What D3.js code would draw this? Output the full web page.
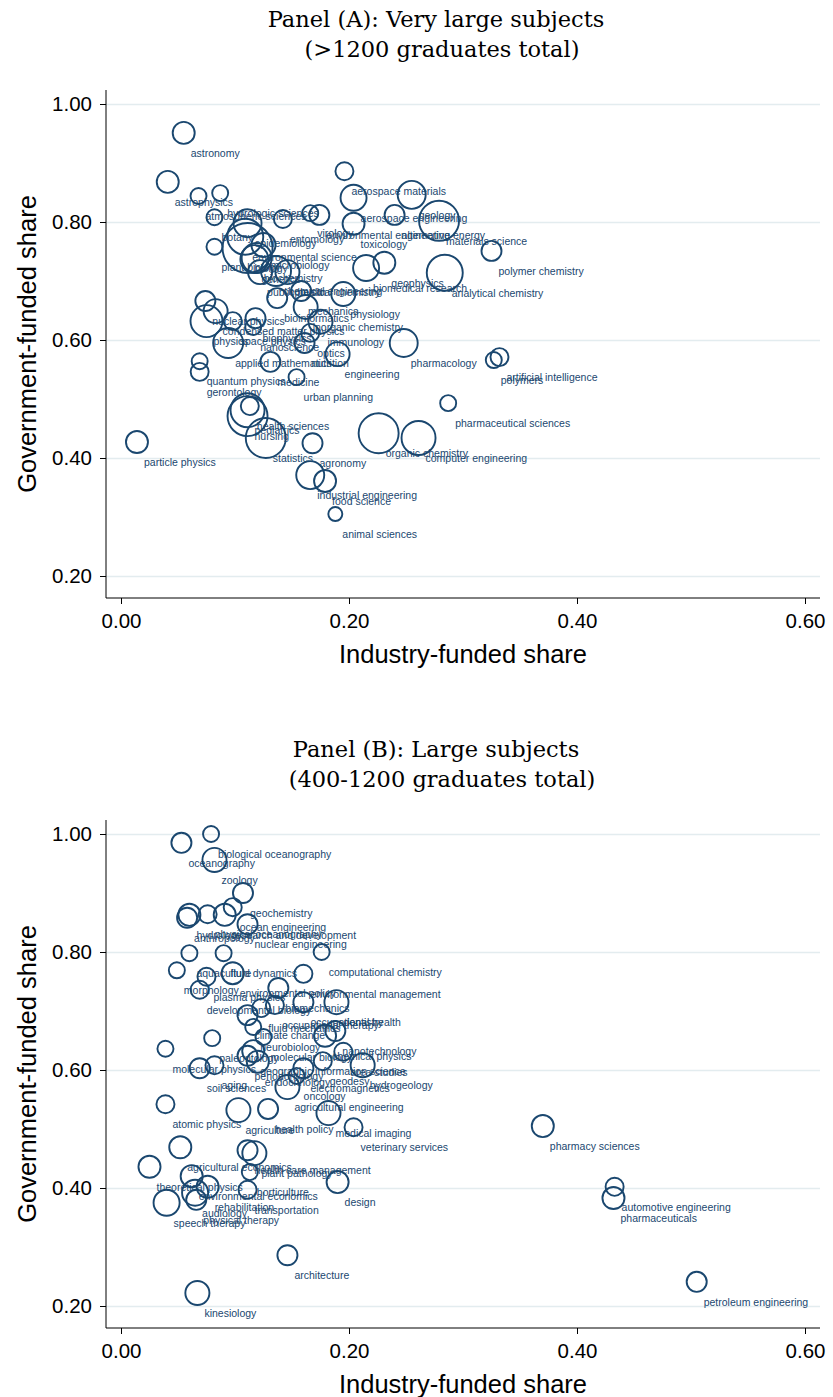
<!DOCTYPE html>
<html>
<head>
<meta charset="utf-8">
<script src="https://cdn.jsdelivr.net/npm/d3@7"></script>
<style>
  body { margin: 0; background: #fff; }
  text { font-family: "Liberation Sans", Arial, sans-serif; }
</style>
</head>
<body>
<div id="chart"></div>
<script>
"use strict";

// axis ticks shared by both panels
const xTicks = [0, 0.2, 0.4, 0.6];
const yTicks = [0.2, 0.4, 0.6, 0.8, 1.0];

// Panel A: very large subjects (>1200 graduates)
const subjectsA = ["astronomy","astrophysics","atmospheric sciences","hydrologic sciences","botany","plant biology",
  "epidemiology","entomology","virology","environmental engineering","alternative energy","aerospace materials",
  "aerospace engineering","geology","materials science","toxicology","polymer chemistry","analytical chemistry",
  "geophysics","biomedical research","environmental science","biology","microbiology","genetics","biochemistry",
  "public health","chemical engineering","physical chemistry","mechanics","physiology","bioinformatics",
  "nuclear physics","condensed matter physics","inorganic chemistry","physics","space physics","biophysics",
  "nanoscience","immunology","optics","applied mathematics","nutrition","engineering","pharmacology",
  "artificial intelligence","polymers","medicine","quantum physics","gerontology","urban planning",
  "health sciences","pediatrics","nursing","statistics","agronomy","particle physics","organic chemistry",
  "computer engineering","pharmaceutical sciences","industrial engineering","food science","animal sciences"];
const industryA = [0.055,0.041,0.068,0.087,0.082,0.082,
  0.111,0.142,0.166,0.174,0.240,0.196,
  0.204,0.255,0.279,0.204,0.325,0.284,
  0.231,0.215,0.109,0.111,0.125,0.117,0.119,
  0.122,0.136,0.146,0.158,0.195,0.137,
  0.074,0.083,0.162,0.075,0.098,0.118,
  0.116,0.175,0.166,0.094,0.161,0.190,0.248,
  0.332,0.327,0.131,0.069,0.069,0.154,
  0.113,0.111,0.111,0.127,0.168,0.014,0.226,
  0.261,0.287,0.166,0.179,0.188];
const governmentA = [0.951,0.868,0.844,0.849,0.808,0.758,
  0.798,0.805,0.815,0.812,0.812,0.886,
  0.841,0.846,0.802,0.797,0.751,0.714,
  0.731,0.722,0.775,0.756,0.761,0.737,0.739,
  0.715,0.717,0.715,0.683,0.678,0.671,
  0.666,0.649,0.656,0.632,0.632,0.637,
  0.622,0.631,0.612,0.595,0.595,0.576,0.595,
  0.571,0.566,0.563,0.564,0.546,0.537,
  0.488,0.481,0.471,0.434,0.425,0.427,0.442,
  0.434,0.493,0.371,0.361,0.305];
const graduatesA = [3025,3025,1600,1600,1600,1600,
  4900,2025,1600,2500,2500,2025,
  4225,4900,10000,3025,2500,8100,
  3025,4225,8100,15625,3600,4900,5625,
  3600,5625,3600,2500,3600,2500,
  2500,3600,3600,6400,2025,2500,
  1600,3600,2025,5625,2500,3600,4900,
  2025,1600,2500,1600,2025,1600,
  2025,7225,10000,10000,2500,3025,10000,
  7225,1600,4900,3025,1225];

// Panel B: large subjects (400-1200 graduates)
const subjectsB = ["biological oceanography","oceanography","zoology","geochemistry","ocean engineering",
  "nuclear engineering","hydrology","anthropology","physical oceanography","research and development",
  "aquaculture","fluid dynamics","computational chemistry","morphology","environmental policy",
  "environmental management","plasma physics","developmental biology","biomechanics","occupational therapy",
  "occupational health","dentistry","fluid mechanics","climate change","neurobiology","nanotechnology",
  "paleontology","molecular biology","chemical physics","molecular physics","geographic information science",
  "aging","soil sciences","periodontology","endocrinology","area studies","hydrogeology","geodesy",
  "electromagnetics","oncology","agricultural engineering","atomic physics","agriculture","health policy",
  "medical imaging","veterinary services","pharmacy sciences","automotive engineering","pharmaceuticals",
  "petroleum engineering","agricultural economics","health care management","plant pathology",
  "theoretical physics","horticulture","environmental economics","design","rehabilitation","transportation",
  "audiology","physical therapy","speech therapy","architecture","kinesiology"];
const industryB = [0.079,0.053,0.082,0.107,0.098,
  0.111,0.060,0.058,0.076,0.091,
  0.060,0.090,0.176,0.049,0.098,
  0.160,0.075,0.069,0.138,0.135,
  0.160,0.189,0.123,0.111,0.116,0.188,
  0.080,0.125,0.179,0.039,0.116,
  0.082,0.069,0.111,0.120,0.195,0.212,0.177,
  0.160,0.154,0.146,0.039,0.103,0.129,
  0.182,0.204,0.370,0.433,0.432,
  0.505,0.052,0.111,0.117,
  0.025,0.113,0.062,0.190,0.076,0.111,
  0.065,0.066,0.040,0.146,0.067];
const governmentB = [1.000,0.985,0.956,0.900,0.876,
  0.847,0.863,0.858,0.864,0.863,
  0.798,0.798,0.800,0.769,0.764,
  0.763,0.758,0.736,0.739,0.710,
  0.715,0.715,0.705,0.693,0.673,0.666,
  0.654,0.656,0.658,0.636,0.632,
  0.608,0.603,0.624,0.614,0.631,0.608,0.615,
  0.603,0.590,0.571,0.542,0.532,0.534,
  0.527,0.503,0.505,0.402,0.383,
  0.241,0.469,0.464,0.459,
  0.436,0.427,0.420,0.410,0.402,0.397,
  0.392,0.380,0.375,0.286,0.222];
const graduatesB = [400,625,900,625,506,
  625,756,625,506,756,
  400,400,400,400,756,
  506,506,506,625,506,
  625,900,506,625,400,625,
  400,400,756,400,756,
  506,625,625,756,506,900,506,
  625,400,900,506,900,625,
  900,506,756,506,756,
  625,756,625,900,
  756,400,756,756,756,506,
  1056,625,1056,625,900];

const W = 833, H = 1397;
const navy = "#1a476f";
const serif = "'DejaVu Serif', 'Liberation Serif', serif";

const svg = d3.select("#chart").append("svg")
  .attr("width", W)
  .attr("height", H);

// one panel: title, grid, axes, bubbles with labels
function drawPanel(top, title1, title2, subjects, industry, government, graduates, sizeRange){
  const g = svg.append("g").attr("transform", `translate(0,${top})`);
  const frame = {left: 106, right: 820, top: 90, bottom: 598};

  const x = d3.scaleLinear().domain([0, 0.6]).range([121, 805]);
  const y = d3.scaleLinear().domain([0.2, 1.0]).range([576, 104]);
  const r = d3.scaleSqrt().domain(sizeRange[0]).range(sizeRange[1]);

  // titles
  g.append("text")
    .attr("x", 436).attr("y", 27)
    .attr("text-anchor", "middle")
    .style("font-family", serif)
    .style("font-size", "22.5px")
    .text(title1);
  g.append("text")
    .attr("x", 442).attr("y", 57)
    .attr("text-anchor", "middle")
    .style("font-family", serif)
    .style("font-size", "22.5px")
    .text(title2);

  // horizontal gridlines
  g.append("g")
    .attr("transform", `translate(${frame.left},0)`)
    .call(d3.axisLeft(y).tickValues(yTicks).tickSize(-(frame.right - frame.left)).tickFormat(""))
    .call(s => s.select(".domain").remove())
    .call(s => s.selectAll("line").attr("stroke", "#e3ecef").attr("stroke-width", 1.5));

  // y axis
  const yAxis = g.append("g")
    .attr("transform", `translate(${frame.left},0)`)
    .call(d3.axisLeft(y).tickValues(yTicks).tickFormat(d3.format(".2f")).tickSize(6).tickPadding(8));
  yAxis.select(".domain").remove();
  yAxis.selectAll("text").style("font-size", "20.5px").attr("fill", "#000");
  yAxis.selectAll("line").attr("stroke", "#000");
  g.append("line")
    .attr("x1", frame.left).attr("x2", frame.left)
    .attr("y1", frame.top).attr("y2", frame.bottom)
    .attr("stroke", "#000");

  // x axis
  const xAxis = g.append("g")
    .attr("transform", `translate(0,${frame.bottom})`)
    .call(d3.axisBottom(x).tickValues(xTicks).tickFormat(d3.format(".2f")).tickSize(6).tickPadding(9));
  xAxis.select(".domain").remove();
  xAxis.selectAll("text").style("font-size", "20.5px").attr("fill", "#000");
  xAxis.selectAll("line").attr("stroke", "#000");
  g.append("line")
    .attr("x1", frame.left).attr("x2", frame.right)
    .attr("y1", frame.bottom).attr("y2", frame.bottom)
    .attr("stroke", "#000");

  // axis titles
  g.append("text")
    .attr("x", 463).attr("y", 663)
    .attr("text-anchor", "middle")
    .style("font-size", "25.5px")
    .text("Industry-funded share");
  g.append("text")
    .attr("transform", `translate(36,${(frame.top + frame.bottom) / 2}) rotate(-90)`)
    .attr("text-anchor", "middle")
    .style("font-size", "25.5px")
    .text("Government-funded share");

  const data = subjects.map((s, i) => ({name: s, ind: industry[i], gov: government[i], n: graduates[i]}));

  // bubbles
  g.append("g").selectAll("circle")
    .data(data)
    .enter().append("circle")
    .attr("cx", d => x(d.ind))
    .attr("cy", d => y(d.gov))
    .attr("r", d => r(d.n))
    .attr("fill", "none")
    .attr("stroke", navy)
    .attr("stroke-width", 1.9);

  // marker labels, below right of each bubble
  g.append("g").selectAll("text")
    .data(data)
    .enter().append("text")
    .attr("x", d => x(d.ind) + 7)
    .attr("y", d => y(d.gov) + 24)
    .attr("fill", navy)
    .style("font-size", "10.5px")
    .text(d => d.name);
}

drawPanel(0, "Panel (A): Very large subjects", "(>1200 graduates total)",
  subjectsA, industryA, governmentA, graduatesA, [[0, 16000], [0, 25.3]]);
drawPanel(730, "Panel (B): Large subjects", "(400-1200 graduates total)",
  subjectsB, industryB, governmentB, graduatesB, [[0, 1200], [0, 13.9]]);
</script>
</body>
</html>
